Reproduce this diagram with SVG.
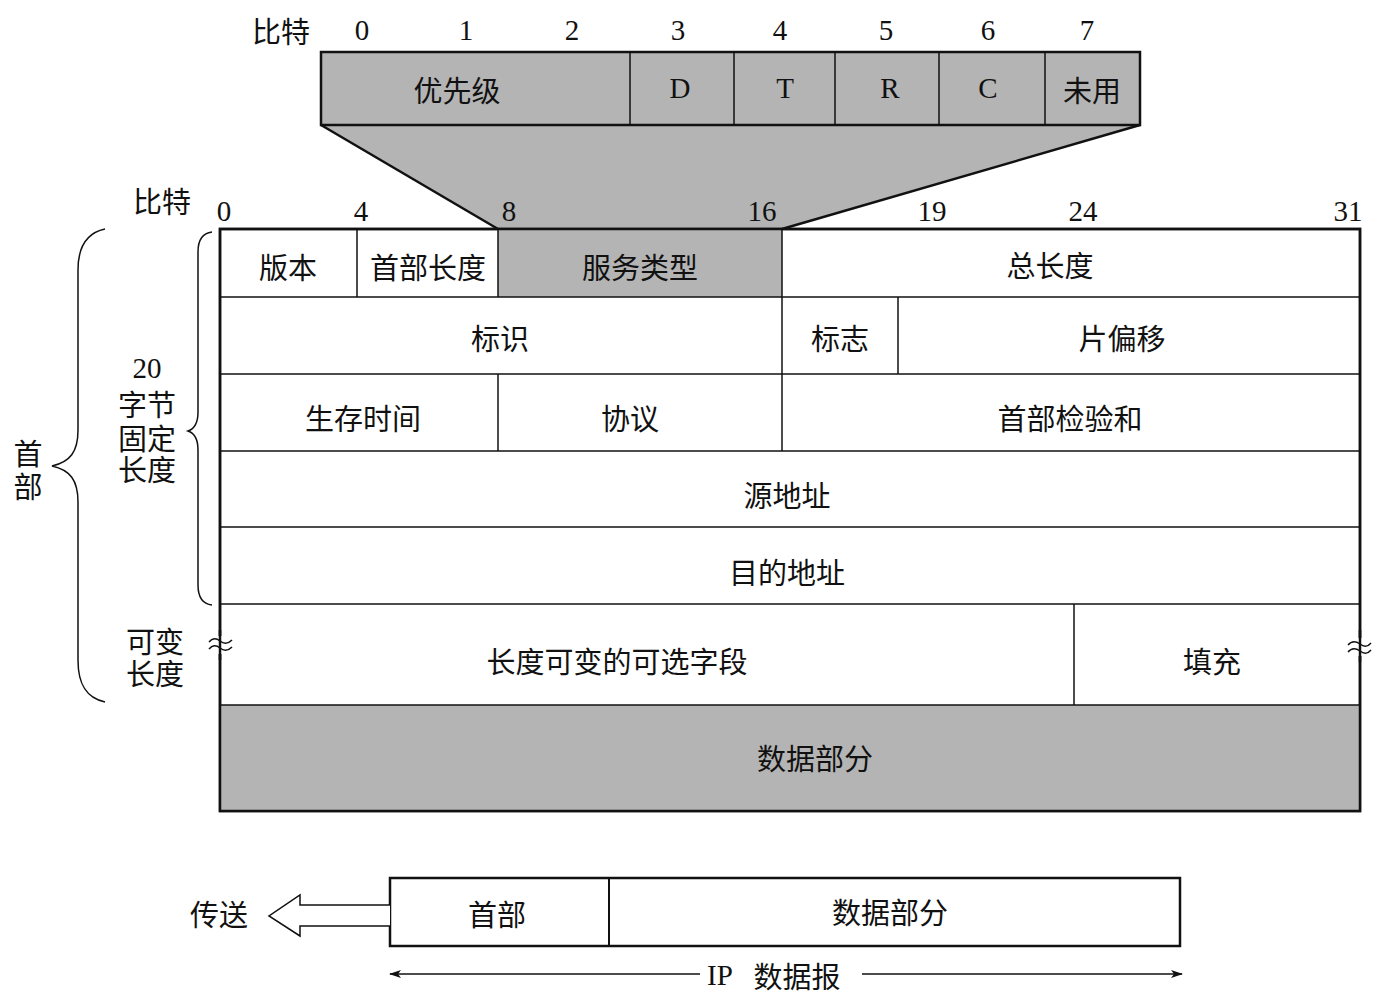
<svg xmlns="http://www.w3.org/2000/svg" width="1382" height="1007" viewBox="0 0 1382 1007">
<style>
.t{font-family:"Noto Sans CJK SC","Liberation Serif",serif;font-size:29px;fill:#111;text-anchor:middle;dominant-baseline:central}
.n{font-family:"Liberation Serif",serif;font-size:29px;fill:#111;text-anchor:middle;dominant-baseline:central}
.box{fill:#fff;stroke:#111;stroke-width:2.5}
.g{fill:#b4b4b4}
.ln{stroke:#111;stroke-width:1.5;fill:none}
.thick{stroke:#111;stroke-width:2.5;fill:none}
</style>
<defs>
<marker id="ah" viewBox="0 0 12 8" refX="11" refY="4" markerWidth="12" markerHeight="8" markerUnits="userSpaceOnUse" orient="auto-start-reverse">
<path d="M0,0 L12,4 L0,8 L3,4 Z" fill="#111"/>
</marker>
</defs>
<rect width="1382" height="1007" fill="#fff"/>

<g id="tos">
<polygon points="321,125 498,229 782,229 1140,125" class="g"/>
<line x1="321" y1="125" x2="498" y2="229" class="thick"/>
<line x1="1140" y1="125" x2="782" y2="229" class="thick"/>
<rect x="321" y="52" width="819" height="73" fill="#b4b4b4" stroke="#111" stroke-width="2.5"/>
<line x1="630" y1="52" x2="630" y2="125" class="ln"/>
<line x1="734" y1="52" x2="734" y2="125" class="ln"/>
<line x1="835" y1="52" x2="835" y2="125" class="ln"/>
<line x1="939" y1="52" x2="939" y2="125" class="ln"/>
<line x1="1045" y1="52" x2="1045" y2="125" class="ln"/>
<text class="t" x="457" y="89">优先级</text>
<text class="n" x="680" y="88">D</text>
<text class="n" x="785" y="88">T</text>
<text class="n" x="890" y="88">R</text>
<text class="n" x="988" y="88">C</text>
<text class="t" x="1092" y="89">未用</text>
<text class="t" x="281" y="30">比特</text>
<text class="n" x="362" y="30">0</text>
<text class="n" x="466" y="30">1</text>
<text class="n" x="572" y="30">2</text>
<text class="n" x="678" y="30">3</text>
<text class="n" x="780" y="30">4</text>
<text class="n" x="886" y="30">5</text>
<text class="n" x="988" y="30">6</text>
<text class="n" x="1087" y="30">7</text>
</g>

<g id="header">
<rect x="220" y="229" width="1140" height="582" class="box"/>
<rect x="498" y="229" width="284" height="68" class="g"/>
<rect x="220" y="705" width="1140" height="106" class="g"/>
<rect x="220" y="229" width="1140" height="582" fill="none" stroke="#111" stroke-width="2.5"/>
<line x1="220" y1="297" x2="1360" y2="297" class="ln"/>
<line x1="220" y1="374" x2="1360" y2="374" class="ln"/>
<line x1="220" y1="451" x2="1360" y2="451" class="ln"/>
<line x1="220" y1="527" x2="1360" y2="527" class="ln"/>
<line x1="220" y1="604" x2="1360" y2="604" class="ln"/>
<line x1="220" y1="705" x2="1360" y2="705" class="ln"/>
<line x1="357" y1="229" x2="357" y2="297" class="ln"/>
<line x1="498" y1="229" x2="498" y2="297" class="ln"/>
<line x1="782" y1="229" x2="782" y2="451" class="ln"/>
<line x1="898" y1="297" x2="898" y2="374" class="ln"/>
<line x1="498" y1="374" x2="498" y2="451" class="ln"/>
<line x1="1074" y1="604" x2="1074" y2="705" class="ln"/>
<text class="t" x="288" y="266">版本</text>
<text class="t" x="428" y="266">首部长度</text>
<text class="t" x="640" y="266">服务类型</text>
<text class="t" x="1050" y="264">总长度</text>
<text class="t" x="500" y="337">标识</text>
<text class="t" x="840" y="337">标志</text>
<text class="t" x="1122" y="337">片偏移</text>
<text class="t" x="363" y="417">生存时间</text>
<text class="t" x="630" y="417">协议</text>
<text class="t" x="1070" y="417">首部检验和</text>
<text class="t" x="787" y="494">源地址</text>
<text class="t" x="787" y="571">目的地址</text>
<text class="t" x="617" y="660">长度可变的可选字段</text>
<text class="t" x="1212" y="660">填充</text>
<text class="t" x="815" y="757">数据部分</text>
<text class="t" x="162" y="200">比特</text>
<text class="n" x="224" y="211">0</text>
<text class="n" x="361" y="211">4</text>
<text class="n" x="509" y="211">8</text>
<text class="n" x="762" y="211">16</text>
<text class="n" x="932" y="211">19</text>
<text class="n" x="1083" y="211">24</text>
<text class="n" x="1348" y="211">31</text>
</g>

<g id="breaks">
<rect x="210" y="636" width="22" height="18" fill="#fff"/>
<rect x="1349" y="638" width="22" height="18" fill="#fff"/>
<line x1="220" y1="630" x2="220" y2="660" stroke="#111" stroke-width="2.5"/>
<line x1="1360" y1="630" x2="1360" y2="662" stroke="#111" stroke-width="2.5"/>
<path d="M209,642 q5,-6 11,-1 q6,5 12,-1 M209,649 q5,-6 11,-1 q6,5 12,-1" class="ln"/>
<path d="M1348,645 q5,-6 12,-1 q6,5 11,-1 M1348,652 q5,-6 12,-1 q6,5 11,-1" class="ln"/>
</g>

<g id="braces">
<path d="M105,229 C86,233 78,248 78,270 L78,430 C78,452 70,462 52,466 C70,470 78,480 78,502 L78,660 C78,684 86,698 105,702" class="ln"/>
<path d="M212,232 C203,233 198,240 198,252 L198,412 C198,424 194,429 188,431 C194,433 198,438 198,450 L198,585 C198,597 203,604 212,605" class="ln"/>
<text class="t"><tspan x="28" y="452">首</tspan><tspan x="28" y="485">部</tspan></text>
<text class="n" x="147" y="368">20</text>
<text class="t"><tspan x="147" y="403">字节</tspan><tspan x="147" y="437">固定</tspan><tspan x="147" y="468">长度</tspan></text>
<text class="t"><tspan x="155" y="640">可变</tspan><tspan x="155" y="672">长度</tspan></text>
</g>

<g id="datagram">
<rect x="390" y="878" width="790" height="68" fill="#fff" stroke="#111" stroke-width="2.5"/>
<line x1="609" y1="878" x2="609" y2="946" stroke="#111" stroke-width="2"/>
<text class="t" x="497" y="913">首部</text>
<text class="t" x="890" y="911">数据部分</text>
</g>

<g id="connectors">
<path d="M390,905 L300,905 L300,895 L269,916 L300,936 L300,926 L390,926" fill="#fff" stroke="#111" stroke-width="1.5"/>
<text class="t" x="219" y="913">传送</text>
<line x1="700" y1="974" x2="390" y2="974" class="ln" marker-end="url(#ah)"/>
<line x1="862" y1="974" x2="1182" y2="974" class="ln" marker-end="url(#ah)"/>
<text class="n" x="720" y="975">IP</text>
<text class="t" x="797" y="975">数据报</text>
</g>
</svg>
